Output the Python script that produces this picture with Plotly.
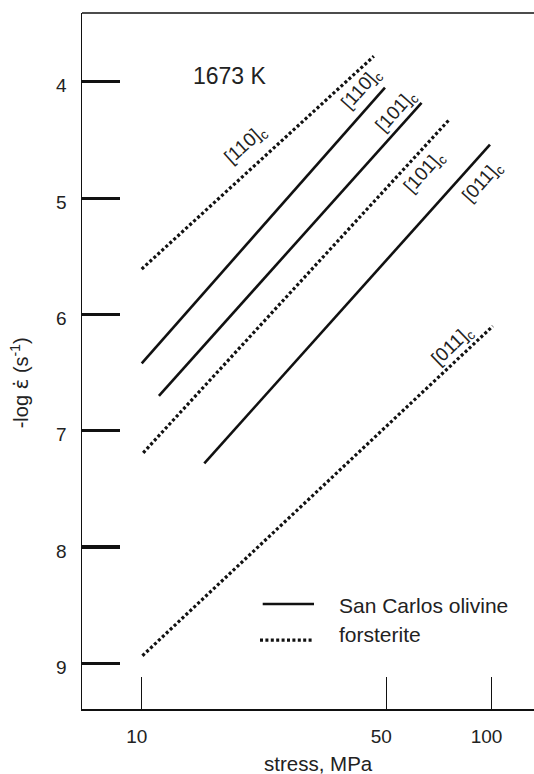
import math
import plotly.graph_objects as go

# ---- data ----
series_names = ["San Carlos olivine", "forsterite"]
directions = ["[110]", "[101]", "[011]"]

# San Carlos olivine lines: start/end stress (MPa) and -log strain rate
sc_stress_start = [10.0, 11.2, 15.1]
sc_stress_end = [49.6, 63.1, 99.0]
sc_rate_start = [6.42, 6.70, 7.28]
sc_rate_end = [4.05, 4.18, 4.54]

# forsterite lines
fo_stress_start = [10.0, 10.1, 10.05]
fo_stress_end = [46.1, 76.0, 100.9]
fo_rate_start = [5.61, 7.19, 8.935]
fo_rate_end = [3.78, 4.32, 6.10]

x_tick_vals = [10, 50, 100]
x_tick_text = ["10", "50", "100"]
y_tick_vals = [4, 5, 6, 7, 8, 9]
y_tick_text = ["4", "5", "6", "7", "8", "9"]

temperature_label = "1673 K"

# ---- label placement (log10 stress, -log rate), angles ----
sc_label_pos = [(1.6295, 4.063), (1.7296, 4.252), (1.9757, 4.862)]
fo_label_pos = [(1.2976, 4.544), (1.8097, 4.776), (1.8898, 6.273)]
sc_label_angle = [-48, -48, -48]
fo_label_angle = [-42, -48, -44]

FONT = "Liberation Sans, Arial, Helvetica, sans-serif"
INK = "#111111"
TXT = "#222222"


def seg_xy(s0, s1, r0, r1):
    xs, ys = [], []
    for a, b, c, d in zip(s0, s1, r0, r1):
        xs += [a, b, None]
        ys += [c, d, None]
    return xs, ys


fig = go.Figure()
xs, ys = seg_xy(sc_stress_start, sc_stress_end, sc_rate_start, sc_rate_end)
fig.add_trace(go.Scatter(x=xs, y=ys, mode="lines", name=series_names[0],
                         line=dict(color=INK, width=2.6), showlegend=False,
                         hoverinfo="skip"))
xs, ys = seg_xy(fo_stress_start, fo_stress_end, fo_rate_start, fo_rate_end)
fig.add_trace(go.Scatter(x=xs, y=ys, mode="lines", name=series_names[1],
                         line=dict(color=INK, width=3.2, dash="3px,2.4px"),
                         showlegend=False, hoverinfo="skip"))

annotations = []
for d, (lx, ly), ang in zip(directions, sc_label_pos, sc_label_angle):
    annotations.append(dict(x=lx, y=ly, xref="x", yref="y",
                            xanchor="center", yanchor="middle",
                            text=d + "<sub>c</sub>", showarrow=False,
                            textangle=ang, font=dict(family=FONT, size=19, color=TXT)))
for d, (lx, ly), ang in zip(directions, fo_label_pos, fo_label_angle):
    annotations.append(dict(x=lx, y=ly, xref="x", yref="y",
                            xanchor="center", yanchor="middle",
                            text=d + "<sub>c</sub>", showarrow=False,
                            textangle=ang, font=dict(family=FONT, size=19, color=TXT)))

annotations.append(dict(x=0.3268, y=0.9092, xref="paper", yref="paper",
                        xanchor="center", yanchor="middle",
                        text=temperature_label, showarrow=False,
                        font=dict(family=FONT, size=23, color=TXT)))
# axis titles
annotations.append(dict(x=-0.137, y=0.468, xref="paper", yref="paper",
                        xanchor="center", yanchor="middle",
                        text="-log <span style=\"font-family:DejaVu Sans\">ε̇</span> (s<sup>-1</sup>)",
                        showarrow=False, textangle=-90,
                        font=dict(family=FONT, size=20, color=TXT)))
annotations.append(dict(x=0.524, y=-0.079, xref="paper", yref="paper",
                        xanchor="center", yanchor="middle",
                        text="stress, MPa", showarrow=False,
                        font=dict(family=FONT, size=20.5, color=TXT)))
# legend texts
annotations.append(dict(x=0.5642, y=0.1494, xref="paper", yref="paper",
                        xanchor="left", yanchor="middle",
                        text=series_names[0], showarrow=False,
                        font=dict(family=FONT, size=21, color=TXT)))
annotations.append(dict(x=0.5642, y=0.1070, xref="paper", yref="paper",
                        xanchor="left", yanchor="middle",
                        text=series_names[1], showarrow=False,
                        font=dict(family=FONT, size=21, color=TXT)))

shapes = [
    # top frame line
    dict(type="line", xref="paper", yref="paper", x0=0, x1=1.01, y0=1, y1=1,
         line=dict(color=INK, width=1.5)),
    # legend keys
    dict(type="line", xref="paper", yref="paper", x0=0.3998, x1=0.5133,
         y0=0.1509, y1=0.1509, line=dict(color=INK, width=2.6)),
    dict(type="line", xref="paper", yref="paper", x0=0.3938, x1=0.5082,
         y0=0.0991, y1=0.0991, line=dict(color=INK, width=3.2, dash="3px,2.4px")),
]

fig.update_layout(
    width=534, height=774,
    margin=dict(l=82, r=0, t=13, b=65),
    paper_bgcolor="white", plot_bgcolor="white",
    showlegend=False,
    annotations=annotations, shapes=shapes,
    xaxis=dict(type="log", range=[math.log10(6.75), math.log10(132.3)],
               tickvals=x_tick_vals, ticktext=x_tick_text,
               ticks="inside", ticklen=32, tickwidth=1.3, tickcolor=INK,
               showline=True, linecolor=INK, linewidth=1.5,
               showgrid=False, zeroline=False, ticklabelstandoff=10,
               ticklabelshift=-5,
               tickfont=dict(family=FONT, size=19, color=TXT)),
    yaxis=dict(range=[9.393, 3.408],
               tickvals=y_tick_vals, ticktext=y_tick_text,
               ticks="inside", ticklen=38, tickwidth=3.2, tickcolor=INK,
               showline=True, linecolor=INK, linewidth=1.5,
               showgrid=False, zeroline=False, ticklabelstandoff=10,
               ticklabelshift=-4,
               tickfont=dict(family=FONT, size=19, color=TXT)),
)

fig.write_html(
    "out.html",
    config={"displayModeBar": False, "staticPlot": True},
    post_script="document.body.style.margin='0';"
                "document.documentElement.style.overflow='hidden';"
                "document.body.style.overflow='hidden';",
)
